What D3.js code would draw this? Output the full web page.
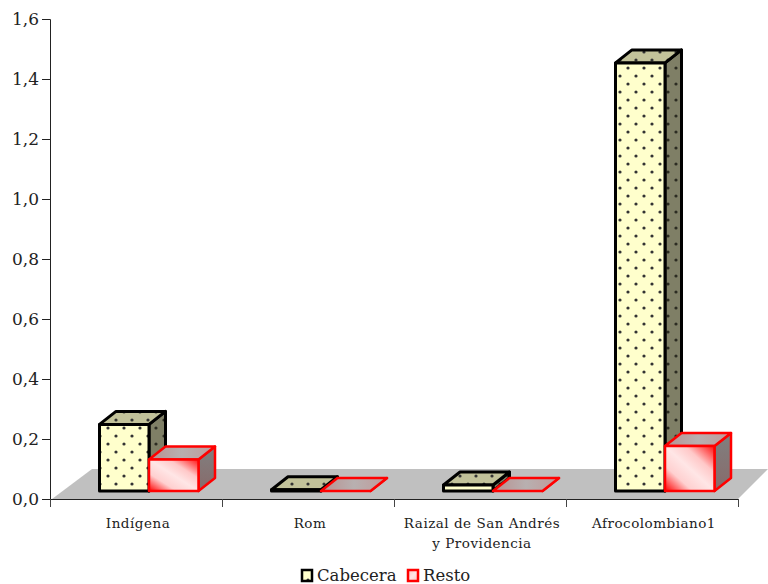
<!DOCTYPE html>
<html>
<head>
<meta charset="utf-8">
<script src="https://d3js.org/d3.v7.min.js"></script>
<style>
	html, body { margin: 0; padding: 0; background: #fff; }
	text { font-family: "DejaVu Serif", serif; fill: #222; }
</style>
</head>
<body>
<div id="chartDiv"></div>
<script>
var categories = ["Indígena", "Rom", "Raizal de San Andrés y Providencia", "Afrocolombiano1"];
var seriesNames = ["Cabecera", "Resto"];
var cabecera = [0.222, 0.004, 0.02, 1.427];
var resto = [0.105, 0, 0, 0.15];
var yTicks = [0, 0.2, 0.4, 0.6, 0.8, 1.0, 1.2, 1.4, 1.6];

var width = 768, height = 584;
var left = 50, right = 738, top_ = 19, bottom = 499;

//depth of the floor and of the bars
var floorDx = 40, floorDy = 30;
var barDx = 16.5, barDy = 13;
var shiftX = 13, shiftY = 8;

var svg = d3.select("#chartDiv").append("svg")
	.attr("width", width)
	.attr("height", height)
	.style("display", "block");

var x = d3.scaleBand().domain(categories).range([left, right]);
var xEdges = d3.scaleLinear().domain([0, categories.length]).range([left, right]);
var xSeries = d3.scaleBand().domain(seriesNames).range([-49.5, 49.5]);
var y = d3.scaleLinear().domain([0, 1.6]).range([bottom, top_]);

var defs = svg.append("defs");

//dotted fills for the Cabecera bars
function dotPattern(id, bg, dot) {
	var p = defs.append("pattern")
		.attr("id", id)
		.attr("patternUnits", "userSpaceOnUse")
		.attr("width", 16)
		.attr("height", 16);
	p.append("rect").attr("width", 16).attr("height", 16).attr("fill", bg);
	p.append("circle").attr("cx", 4).attr("cy", 4).attr("r", 1.6).attr("fill", dot);
	p.append("circle").attr("cx", 12).attr("cy", 12).attr("r", 1.6).attr("fill", dot);
}
dotPattern("dotFront", "#ffffcc", "#333");
dotPattern("dotTop", "#c2c29a", "#333");
dotPattern("dotSide", "#7f7f66", "#2c2c22");

//shaded fills for the Resto bars
function gradient(id, x1, y1, x2, y2, stops) {
	var g = defs.append("linearGradient")
		.attr("id", id)
		.attr("x1", x1).attr("y1", y1)
		.attr("x2", x2).attr("y2", y2);
	stops.forEach(function(s) {
		g.append("stop").attr("offset", s[0]).attr("stop-color", s[1]);
	});
}
gradient("redFront", 0, 1, 1, 0, [[0, "#ff0000"], [0.28, "#ffd0d0"], [0.5, "#ffe6e6"], [0.7, "#ffc8c8"], [1, "#ff1010"]]);
gradient("redTop", 0, 0, 1, 0, [[0, "#b89090"], [0.5, "#b8b0b0"], [1, "#c09a9a"]]);
gradient("redSide", 0, 0, 0, 1, [[0, "#808080"], [1, "#886a6a"]]);
gradient("redSwatch", 0, 0, 1, 1, [[0, "#ffc4c4"], [0.5, "#ffe6e6"], [1, "#ffc4c4"]]);

//floor of the plot
var floorPts = [
	[xEdges(0) + 2, y(0)],
	[xEdges(0) + floorDx + 2, y(0) - floorDy],
	[xEdges(4) + floorDx - 10, y(0) - floorDy],
	[xEdges(4), y(0)]
];
svg.append("polygon")
	.attr("points", floorPts.join(" "))
	.attr("fill", "#c0c0c0");

//axes
var yAxis = d3.axisLeft(y)
	.tickValues(yTicks)
	.tickSize(8)
	.tickFormat(function(d) { return d.toFixed(1).replace(".", ","); });

var gy = svg.append("g")
	.attr("transform", "translate(" + left + ",0)")
	.call(yAxis);
gy.select(".domain").attr("stroke", "#222");
gy.selectAll(".tick line").attr("stroke", "#222");
gy.selectAll(".tick text")
	.attr("x", -11)
	.style("font-size", "17px");

var xAxis = d3.axisBottom(xEdges)
	.tickValues(d3.range(categories.length + 1))
	.tickSize(8)
	.tickFormat("");

var gx = svg.append("g")
	.attr("transform", "translate(0," + bottom + ")")
	.call(xAxis);
gx.select(".domain").attr("stroke", "#222");
gx.selectAll(".tick line").attr("stroke", "#444");

//draw one box, back faces first
function drawBar(x0, x1, v, sty) {
	var b = y(0) - shiftY;
	var t = y(v) - shiftY;
	var g = svg.append("g")
		.attr("stroke", sty.stroke)
		.attr("stroke-width", sty.sw)
		.attr("stroke-linejoin", "round");
	g.append("polygon")
		.attr("points", [[x1, t], [x1 + barDx, t - barDy], [x1 + barDx, b - barDy], [x1, b]].join(" "))
		.attr("fill", sty.side);
	g.append("polygon")
		.attr("points", [[x0, t], [x0 + barDx, t - barDy], [x1 + barDx, t - barDy], [x1, t]].join(" "))
		.attr("fill", sty.top);
	if (v > 0) {
		g.append("rect")
			.attr("x", x0)
			.attr("y", t)
			.attr("width", x1 - x0)
			.attr("height", b - t)
			.attr("fill", sty.front);
	}
}

var styles = [
	{stroke: "#000", sw: 3, front: "url(#dotFront)", top: "url(#dotTop)", side: "url(#dotSide)"},
	{stroke: "#ff0000", sw: 2.5, front: "url(#redFront)", top: "url(#redTop)", side: "url(#redSide)"}
];

categories.forEach(function(c, i) {
	[cabecera[i], resto[i]].forEach(function(v, s) {
		var mid = x(c) + x.bandwidth() / 2 + shiftX;
		var x0 = mid + xSeries(seriesNames[s]);
		drawBar(x0, x0 + xSeries.bandwidth(), v, styles[s]);
	});
});

//category labels, wrapped to the width of a band
svg.selectAll(".catLabel")
	.data(categories)
	.enter().append("text")
	.attr("class", "catLabel")
	.attr("text-anchor", "middle")
	.style("font-size", "13.5px")
	.style("letter-spacing", "0.5px")
	.each(function(d) {
		var lines = d.length > 20 ? ["Raizal de San Andrés", "y Providencia"] : [d];
		var sel = d3.select(this);
		lines.forEach(function(l, i) {
			sel.append("tspan")
				.attr("x", x(d) + x.bandwidth() / 2 + 2)
				.attr("y", 528 + i * 20)
				.text(l);
		});
	});

//legend
var legendX = [302, 408];
var legendFill = ["url(#dotFront)", "url(#redSwatch)"];
seriesNames.forEach(function(n, i) {
	svg.append("rect")
		.attr("x", legendX[i])
		.attr("y", 570)
		.attr("width", 10)
		.attr("height", 11)
		.attr("fill", legendFill[i])
		.attr("stroke", styles[i].stroke)
		.attr("stroke-width", 2.5);
	svg.append("text")
		.attr("x", legendX[i] + 15)
		.attr("y", 581)
		.style("font-size", "16.5px")
		.text(n);
});
</script>
</body>
</html>
